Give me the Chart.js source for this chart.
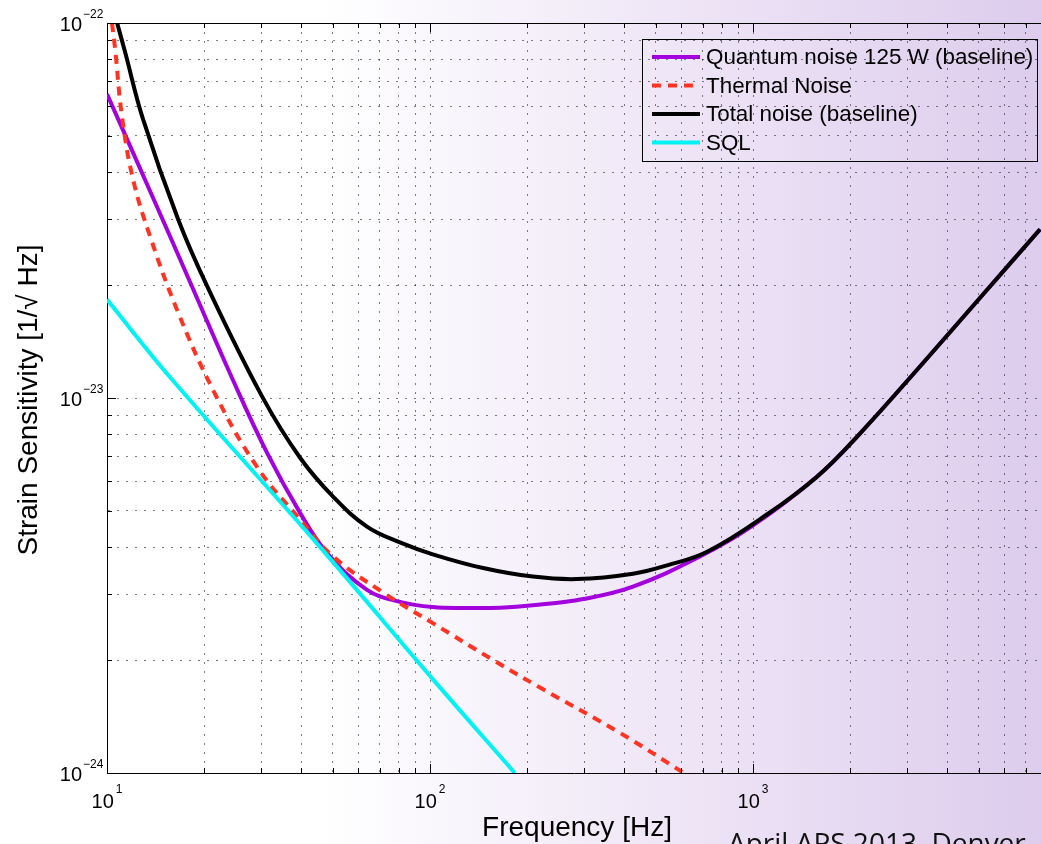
<!DOCTYPE html>
<html>
<head>
<meta charset="utf-8">
<script src="https://cdn.jsdelivr.net/npm/chart.js@4.4.0/dist/chart.umd.min.js"></script>
<style>
  html, body { margin: 0; padding: 0; background: #fff; }
  #wrap { width: 1041px; height: 844px; overflow: hidden; }
</style>
</head>
<body>
<div id="wrap"><canvas id="chart" width="1041" height="844"></canvas></div>
<script>
// values: frequency [Hz] / strain [1/sqrt(Hz)]
const quantumFreq  = [10, 13.6, 18.3, 24.5, 31.3, 39.6, 48, 63.8, 80.7, 102, 130, 165, 208, 298, 425, 685, 977, 1578, 2143, 3360, 5150, 7740];
const quantumNoise = [6.46e-23, 3.56e-23, 1.99e-23, 1.12e-23, 7.14e-24, 4.94e-24, 3.86e-24, 3.08e-24, 2.86e-24, 2.77e-24, 2.755e-24, 2.76e-24, 2.80e-24, 2.91e-24, 3.14e-24, 3.78e-24, 4.51e-24, 6.17e-24, 8.04e-24, 1.24e-23, 1.888e-23, 2.818e-23];

const thermalFreq  = [10.36, 10.6, 11.13, 12.04, 13.59, 16.47, 21.3, 29.1, 39.6, 50.1, 71.5, 102, 157, 219, 387, 603];
const thermalNoise = [1.0e-22, 8.5e-23, 5.62e-23, 3.83e-23, 2.70e-23, 1.72e-23, 1.05e-23, 6.56e-24, 4.74e-24, 3.78e-24, 3.03e-24, 2.51e-24, 2.00e-24, 1.69e-24, 1.28e-24, 1.007e-24];

const totalFreq  = [10.75, 11.37, 12.92, 16.59, 20.4, 30.2, 39.6, 50.1, 63.8, 80.7, 102, 146, 208, 285, 425, 542, 721, 1104, 1578, 2143, 3360, 5150, 7740];
const totalNoise = [1.0e-22, 8.38e-23, 5.55e-23, 3.0e-23, 1.99e-23, 1.01e-23, 6.93e-24, 5.46e-24, 4.54e-24, 4.12e-24, 3.83e-24, 3.52e-24, 3.34e-24, 3.29e-24, 3.40e-24, 3.58e-24, 3.89e-24, 4.89e-24, 6.17e-24, 8.04e-24, 1.24e-23, 1.888e-23, 2.818e-23];

const sqlFreq  = [10, 15.9, 44.7, 102, 183];
const sqlNoise = [1.83e-23, 1.12e-23, 4.09e-24, 1.78e-24, 1.0e-24];

const seriesLabels = ['Quantum noise 125 W (baseline)', 'Thermal Noise', 'Total noise (baseline)', 'SQL'];

const xTickValues = [10, 20, 30, 40, 50, 60, 70, 80, 90,
                     100, 200, 300, 400, 500, 600, 700, 800, 900,
                     1000, 2000, 3000, 4000, 5000, 6000, 7000];
const yTickValues = [1e-24, 2e-24, 3e-24, 4e-24, 5e-24, 6e-24, 7e-24, 8e-24, 9e-24,
                     1e-23, 2e-23, 3e-23, 4e-23, 5e-23, 6e-23, 7e-23, 8e-23, 9e-23, 1e-22];
const xMajor = [10, 100, 1000];
const xLabelExp = ['1', '2', '3'];
const yMajor = [1e-24, 1e-23, 1e-22];
const yLabelExp = ['\u221224', '\u221223', '\u221222'];

const FONT = '"Liberation Sans", Arial, Helvetica, sans-serif';

function pts(fs, hs) {
    return fs.map((f, i) => ({x: f, y: hs[i]}));
}

const decor = {
    id: 'decor',
    beforeDraw(chart) {
        const ctx = chart.ctx;
        const g = ctx.createLinearGradient(320, 0, 1041, 0);
        g.addColorStop(0, '#ffffff');
        g.addColorStop(0.5, '#eee5f6');
        g.addColorStop(1, '#ddcced');
        ctx.save();
        ctx.fillStyle = g;
        ctx.fillRect(0, 0, chart.width, chart.height);
        ctx.restore();
    },
    afterDraw(chart) {
        const {ctx, chartArea: a, scales: {x, y}} = chart;
        ctx.save();

        // top border + inward tick marks
        ctx.strokeStyle = '#000';
        ctx.lineWidth = 1;
        ctx.beginPath();
        ctx.moveTo(a.left, a.top + 0.5);
        ctx.lineTo(a.right, a.top + 0.5);
        xTickValues.forEach(v => {
            const px = Math.round(x.getPixelForValue(v)) + 0.5;
            const len = xMajor.includes(v) ? 9 : 5;
            ctx.moveTo(px, a.bottom);
            ctx.lineTo(px, a.bottom - len);
            ctx.moveTo(px, a.top);
            ctx.lineTo(px, a.top + len);
        });
        yTickValues.forEach(v => {
            const py = Math.round(y.getPixelForValue(v)) + 0.5;
            const len = yMajor.includes(v) ? 9 : 5;
            ctx.moveTo(a.left, py);
            ctx.lineTo(a.left + len, py);
        });
        ctx.stroke();

        // tick labels 10^n
        ctx.fillStyle = '#000';
        ctx.textBaseline = 'alphabetic';
        yMajor.forEach((v, i) => {
            const py = y.getPixelForValue(v);
            ctx.font = '20px ' + FONT;
            ctx.textAlign = 'right';
            ctx.fillText('10', 82, py + 8);
            ctx.font = '12px ' + FONT;
            ctx.textAlign = 'left';
            ctx.fillText(yLabelExp[i], 83, py - 5);
        });
        xMajor.forEach((v, i) => {
            const px = x.getPixelForValue(v);
            ctx.font = '20px ' + FONT;
            const w1 = ctx.measureText('10').width;
            ctx.font = '12px ' + FONT;
            const w2 = ctx.measureText(xLabelExp[i]).width;
            const left = px - (w1 + 2 + w2) / 2;
            ctx.textAlign = 'left';
            ctx.font = '20px ' + FONT;
            ctx.fillText('10', left, 808);
            ctx.font = '12px ' + FONT;
            ctx.fillText(xLabelExp[i], left + w1 + 2, 793);
        });

        // axis titles
        ctx.font = '28px ' + FONT;
        ctx.textAlign = 'center';
        ctx.fillText('Frequency [Hz]', 577, 836);
        ctx.save();
        ctx.translate(37, 400);
        ctx.rotate(-Math.PI / 2);
        ctx.fillText('Strain Sensitivity [1/\u221A Hz]', 0, 0);
        ctx.restore();

        // footer text, cut by the bottom edge
        ctx.font = '28px "Open Sans", ' + FONT;
        ctx.textAlign = 'left';
        ctx.fillStyle = '#111';
        ctx.fillText('April APS 2013, Denver', 728, 853);

        // legend box
        ctx.strokeStyle = '#000';
        ctx.lineWidth = 1;
        ctx.strokeRect(642.5, 39.5, 395, 122);
        chart.data.datasets.forEach((ds, i) => {
            const ry = 57 + i * 28.5;
            ctx.beginPath();
            ctx.strokeStyle = ds.borderColor;
            ctx.lineWidth = 4;
            ctx.setLineDash(ds.borderDash || []);
            ctx.moveTo(652, ry);
            ctx.lineTo(700, ry);
            ctx.stroke();
            ctx.setLineDash([]);
            ctx.fillStyle = '#000';
            ctx.font = '22.4px ' + FONT;
            ctx.textBaseline = 'middle';
            ctx.fillText(ds.label, 706, ry + 1);
        });

        ctx.restore();
    }
};

const gridStyle = {
    display: true,
    drawTicks: false,
    color: 'rgba(40,40,40,0.6)',
    lineWidth: 1
};

new Chart(document.getElementById('chart').getContext('2d'), {
    type: 'line',
    data: {
        datasets: [
            {label: seriesLabels[0], data: pts(quantumFreq, quantumNoise), borderColor: '#a200dd', borderWidth: 4, order: 3},
            {label: seriesLabels[1], data: pts(thermalFreq, thermalNoise), borderColor: '#ff3322', borderWidth: 4, borderDash: [9, 7], order: 2},
            {label: seriesLabels[2], data: pts(totalFreq, totalNoise), borderColor: '#000000', borderWidth: 4, order: 1},
            {label: seriesLabels[3], data: pts(sqlFreq, sqlNoise), borderColor: '#00f2f2', borderWidth: 4, order: 0}
        ]
    },
    options: {
        responsive: false,
        animation: false,
        devicePixelRatio: 1,
        layout: {padding: {left: 107, top: 23, right: 0, bottom: 71}},
        elements: {
            point: {radius: 0},
            line: {tension: 0.4, fill: false, borderCapStyle: 'butt', borderJoinStyle: 'round'}
        },
        plugins: {legend: {display: false}, tooltip: {enabled: false}},
        scales: {
            x: {
                type: 'logarithmic',
                min: 10,
                max: 7790,
                afterBuildTicks: s => { s.ticks = xTickValues.map(v => ({value: v})); },
                ticks: {display: false},
                grid: gridStyle,
                border: {display: true, color: '#000', width: 1, dash: [2, 7]}
            },
            y: {
                type: 'logarithmic',
                min: 1e-24,
                max: 1e-22,
                afterBuildTicks: s => { s.ticks = yTickValues.map(v => ({value: v})); },
                ticks: {display: false},
                grid: gridStyle,
                border: {display: true, color: '#000', width: 1, dash: [2, 7]}
            }
        }
    },
    plugins: [decor]
});
</script>
</body>
</html>
